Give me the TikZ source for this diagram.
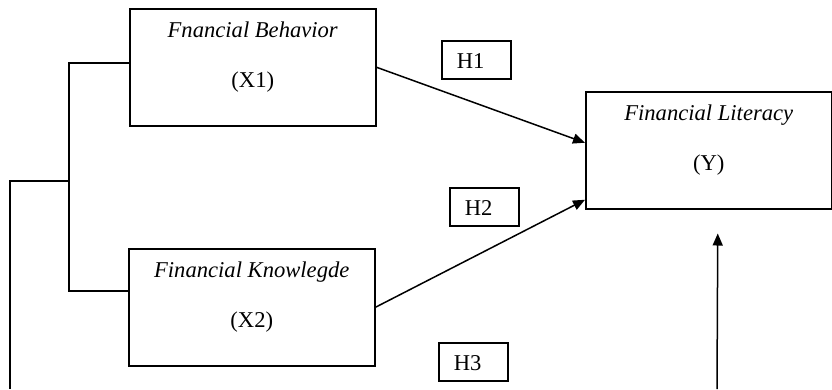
\documentclass[tikz,border=0pt]{standalone}
\usepackage{fontspec}
\setmainfont{Liberation Serif}
\usetikzlibrary{arrows.meta}

\begin{document}
\begin{tikzpicture}[x=1pt, y=-1pt, line width=1.5pt,
	font=\fontsize{22.6}{27}\selectfont,
	>={Triangle[length=12pt, width=10pt]},
	varbox/.style={draw, rectangle, anchor=north west, inner sep=0pt, minimum width=246pt, align=center, text height=79pt, text depth=38pt},
	hypbox/.style={draw, rectangle, anchor=north west, inner xsep=15pt, inner ysep=0pt, text width=39pt, align=left, text height=28pt, text depth=10pt}]
				\useasboundingbox (0, 0) rectangle (832, 389);
				\node[varbox] (X1)at(129, 8) {\textit{Fnancial Behavior}\\[23pt](X1)};
				\node[varbox] (X2)at(128, 248) {\textit{Financial Knowlegde}\\[23pt](X2)};
				\node[varbox] (Y)at(585, 91) {\textit{Financial Literacy}\\[23pt](Y)};
				\node[hypbox] (H1)at(441, 40) {H1};
				\node[hypbox] (H2)at(449, 187) {H2};
				\node[hypbox] (H3)at(438, 342) {H3};
				\coordinate (split)at(69, 181);
				\coordinate (low)at(10, 389);
				\coordinate (up)at(717, 389);
				\draw ([yshift=4.5pt]X1.west) -| (split) |- ([yshift=16.5pt]X2.west);
				\draw (split) -| (low);
				\draw[->] (X1.east) -- ([yshift=7.5pt]Y.west);
				\draw[->] (X2.east) -- ([yshift=-49.5pt]Y.west);
				\draw[->] (up) -- ([xshift=9pt, yshift=-24pt]Y.south);
			\end{tikzpicture}
\end{document}
